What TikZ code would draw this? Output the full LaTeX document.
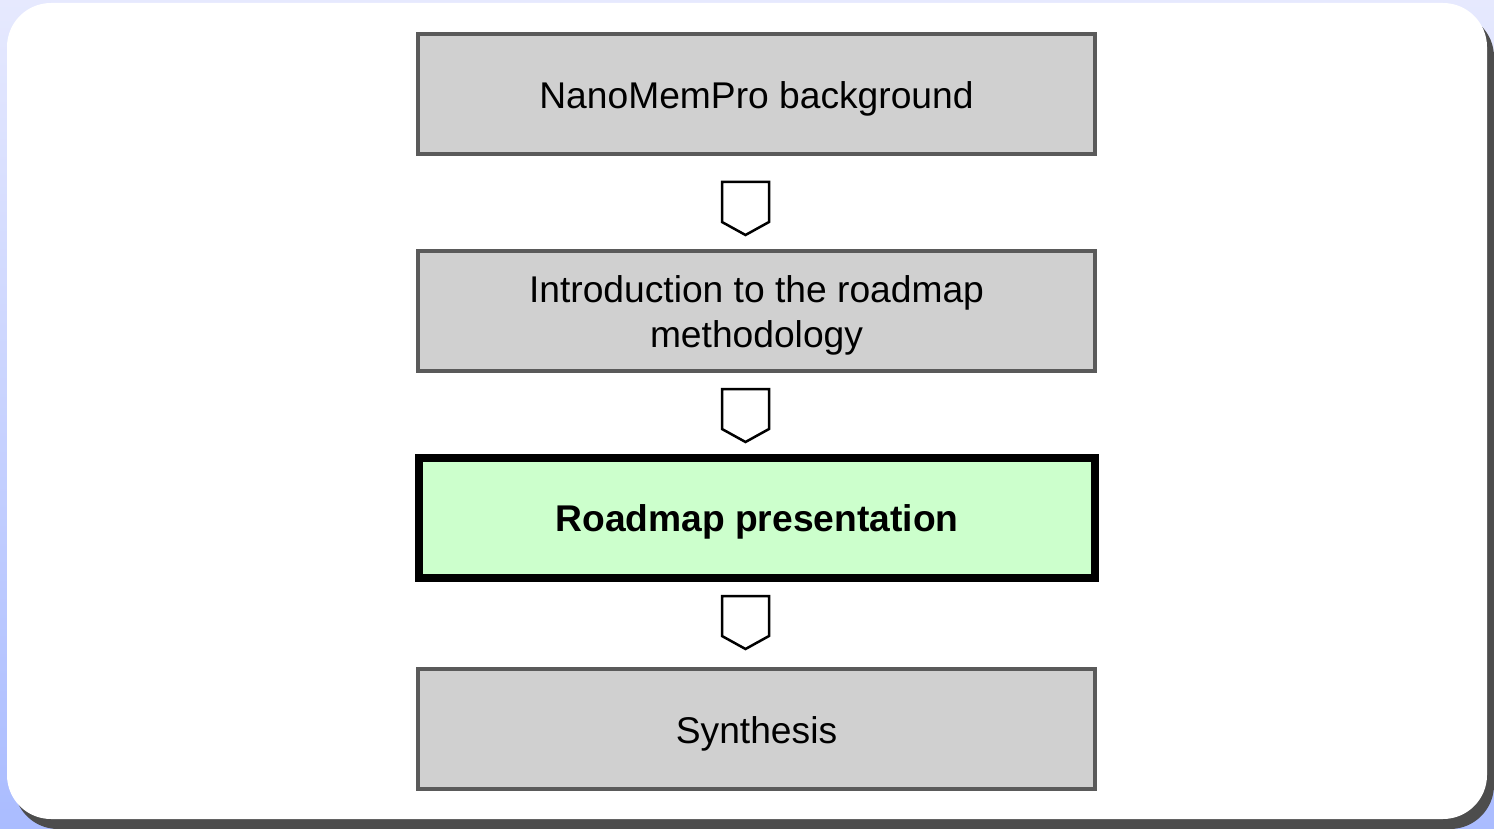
\documentclass[tikz,border=0pt]{standalone}
\usepackage{fontspec}
\setmainfont{Liberation Sans}
\definecolor{bgtop}{HTML}{E6E9FE}
\definecolor{bgbot}{HTML}{AABCFF}
\definecolor{shadowgray}{HTML}{4D4D4D}
\definecolor{boxgray}{HTML}{D0D0D0}
\definecolor{boxborder}{HTML}{5A5A5A}
\definecolor{boxgreen}{HTML}{CCFFCC}
\tikzset{
  stagebox/.style={draw=boxborder, line width=4pt, fill=boxgray, minimum width=677pt, minimum height=120pt,
    inner sep=0pt},
  activebox/.style={stagebox, draw=black, line width=8pt, fill=boxgreen, minimum width=676pt},
  stagetext/.style={inner sep=0pt, align=center, font=\fontsize{37.2}{45}\selectfont},
  activetext/.style={stagetext, font=\fontsize{37.2}{45}\selectfont\bfseries},
  blockarrow/.pic={\draw[line width=2.5pt, fill=white, line join=miter] (-23.5,0) -- (23.5,0) -- (23.5,40) -- (0,53) -- (-23.5,40) -- cycle;}
}
\begin{document}
\begin{tikzpicture}[x=1pt,y=-1pt]
\useasboundingbox (0,0) rectangle (1494,829);
\shade[top color=bgtop, bottom color=bgbot] (0,0) rectangle (1494,829);
\fill[shadowgray, rounded corners=44pt] (14,13) rectangle (1494,829);
\fill[white, rounded corners=44pt] (7,3) rectangle (1487,819);
\node[stagebox] (bg) at (756.5,94) {};
\node[stagetext] (bgt) at ([yshift=-5pt]bg.center) {NanoMemPro background};
\node[stagebox] (intro) at (756.5,311) {};
\node[stagetext] (introt) at ([yshift=-4pt]intro.center) {Introduction to the roadmap\\methodology};
\node[activebox] (pres) at (757,518) {};
\node[activetext] (prest) at ([yshift=-4pt]pres.center) {Roadmap presentation};
\node[stagebox] (synth) at (756.5,729) {};
\node[stagetext] (syntht) at ([yshift=-5pt]synth.center) {Synthesis};
\pic at (745.5,182) {blockarrow};
\pic at (745.5,389) {blockarrow};
\pic at (745.5,596) {blockarrow};
\end{tikzpicture}
\end{document}
